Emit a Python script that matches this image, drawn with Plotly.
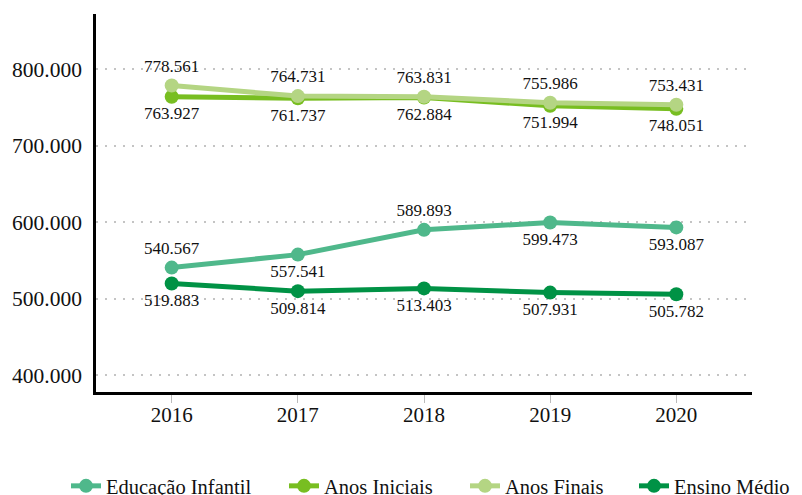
import plotly.graph_objects as go

years = ["2016", "2017", "2018", "2019", "2020"]
educacao_infantil = [540567, 557541, 589893, 599473, 593087]
anos_iniciais = [763927, 761737, 762884, 751994, 748051]
anos_finais = [778561, 764731, 763831, 755986, 753431]
ensino_medio = [519883, 509814, 513403, 507931, 505782]

series_names = ["Educação Infantil", "Anos Iniciais", "Anos Finais", "Ensino Médio"]
series_values = [educacao_infantil, anos_iniciais, anos_finais, ensino_medio]
colors = ["#4fb88b", "#78be21", "#b4d583", "#009245"]
positions = [
    ["top center", "bottom center", "top center", "bottom center", "bottom center"],
    ["bottom center"] * 5,
    ["top center"] * 5,
    ["bottom center"] * 5,
]
legend_ids = ["legend", "legend2", "legend3", "legend4"]
legend_x = [58, 276, 457, 626]

FONT = "Liberation Serif"

fig = go.Figure()
for name, vals, col, pos, lid in zip(series_names, series_values, colors, positions, legend_ids):
    fig.add_trace(go.Scatter(
        x=years, y=vals, name=name, mode="lines+markers+text",
        line=dict(color=col, width=5),
        marker=dict(color=col, size=14),
        texttemplate="%{y:,.0f}", textposition=pos,
        textfont=dict(family=FONT, size=17, color="#111111"),
        hoverinfo="skip", legend=lid,
    ))

legend_common = dict(orientation="h", xref="container", yref="container", y=0.0343,
                     yanchor="middle", xanchor="left", bgcolor="rgba(0,0,0,0)",
                     font=dict(family=FONT, size=20.5, color="#111111"))
layout_legends = {}
for lid, lx in zip(legend_ids, legend_x):
    layout_legends[lid] = dict(legend_common, x=lx / 802)

fig.update_layout(
    width=802, height=495,
    margin=dict(l=88, r=58, t=6, b=111, autoexpand=False),
    paper_bgcolor="white", plot_bgcolor="white",
    separators=",.",
    font=dict(family=FONT, size=21, color="#111111"),
    showlegend=True,
    xaxis=dict(type="category", range=[-0.6, 4.6], showline=True, linecolor="black", linewidth=2.5,
               ticks="outside", ticklen=8, tickcolor="#bbbbbb", tickwidth=1,
               showgrid=False, zeroline=False, ticklabelstandoff=-6,
               tickfont=dict(family=FONT, size=21)),
    yaxis=dict(range=[378000, 872000], tickvals=[400000, 500000, 600000, 700000, 800000],
               tickformat=",.0f", showline=True, linecolor="black", linewidth=2.5,
               showgrid=True, gridcolor="#c4c4c4", griddash="2px,7px", gridwidth=1.5,
               zeroline=False, ticks="", ticklabelstandoff=7,
               tickfont=dict(family=FONT, size=21.5)),
    **layout_legends,
)

fig.write_html("out.html")
